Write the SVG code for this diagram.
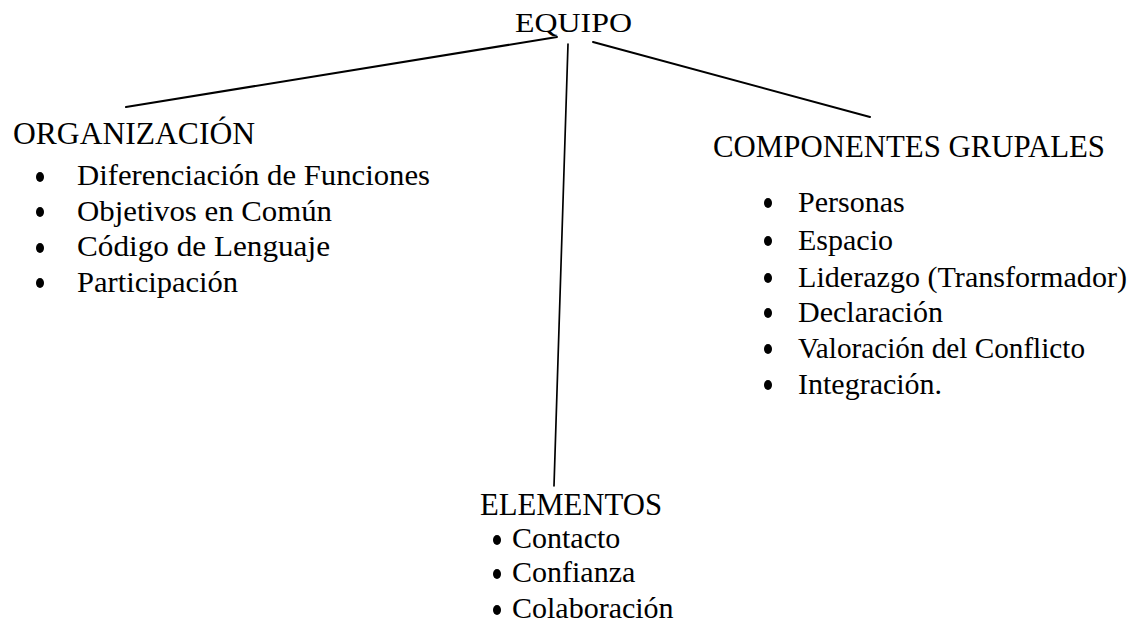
<svg xmlns="http://www.w3.org/2000/svg" width="1143" height="642" viewBox="0 0 1143 642">
<style>
.h{font-family:"Liberation Serif","Times New Roman",serif;font-size:31px;fill:#000}
.t{font-family:"Liberation Serif","Times New Roman",serif;font-size:30px;fill:#000}
.c{stroke:#000;stroke-width:2;fill:none;stroke-linecap:round}
.b{fill:#000}
</style>
<rect width="1143" height="642" fill="#fff"/>
<g id="connectors">
<line class="c" x1="557" y1="37" x2="126" y2="107"/>
<line class="c" x1="568" y1="44" x2="554" y2="486" style="stroke-width:1.7"/>
<line class="c" x1="593" y1="42" x2="870" y2="117"/>
</g>
<g id="equipo">
<text class="h" x="515" y="32" style="font-size:28px" textLength="117" lengthAdjust="spacingAndGlyphs">EQUIPO</text>
</g>
<g id="organizacion">
<text class="h" x="13" y="144" textLength="242" lengthAdjust="spacingAndGlyphs">ORGANIZACIÓN</text>
<ellipse class="b" cx="40" cy="177" rx="4" ry="5"/>
<text class="t" x="77" y="185" textLength="353" lengthAdjust="spacingAndGlyphs">Diferenciación de Funciones</text>
<ellipse class="b" cx="40" cy="212" rx="4" ry="5"/>
<text class="t" x="77" y="220.5" textLength="255" lengthAdjust="spacingAndGlyphs">Objetivos en Común</text>
<ellipse class="b" cx="40" cy="248" rx="4" ry="5"/>
<text class="t" x="77" y="256" textLength="253" lengthAdjust="spacingAndGlyphs">Código de Lenguaje</text>
<ellipse class="b" cx="40" cy="283" rx="4" ry="5"/>
<text class="t" x="77" y="291.5" textLength="161" lengthAdjust="spacingAndGlyphs">Participación</text>
</g>
<g id="componentes">
<text class="h" x="713" y="157" textLength="392" lengthAdjust="spacingAndGlyphs">COMPONENTES GRUPALES</text>
<ellipse class="b" cx="768" cy="203" rx="4" ry="5"/>
<text class="t" x="798" y="212">Personas</text>
<ellipse class="b" cx="768" cy="241" rx="4" ry="5"/>
<text class="t" x="798" y="249.5">Espacio</text>
<ellipse class="b" cx="768" cy="278" rx="4" ry="5"/>
<text class="t" x="798" y="286.5" textLength="329" lengthAdjust="spacingAndGlyphs">Liderazgo (Transformador)</text>
<ellipse class="b" cx="768" cy="313" rx="4" ry="5"/>
<text class="t" x="798" y="322">Declaración</text>
<ellipse class="b" cx="768" cy="349" rx="4" ry="5"/>
<text class="t" x="798" y="358" textLength="287" lengthAdjust="spacingAndGlyphs">Valoración del Conflicto</text>
<ellipse class="b" cx="768" cy="385" rx="4" ry="5"/>
<text class="t" x="798" y="393.5">Integración.</text>
</g>
<g id="elementos">
<text class="h" x="480" y="515" textLength="182" lengthAdjust="spacingAndGlyphs">ELEMENTOS</text>
<ellipse class="b" cx="497" cy="540" rx="4" ry="5"/>
<text class="t" x="512" y="548">Contacto</text>
<ellipse class="b" cx="497" cy="574" rx="4" ry="5"/>
<text class="t" x="512" y="582">Confianza</text>
<ellipse class="b" cx="497" cy="610" rx="4" ry="5"/>
<text class="t" x="512" y="618">Colaboración</text>
</g>
</svg>
